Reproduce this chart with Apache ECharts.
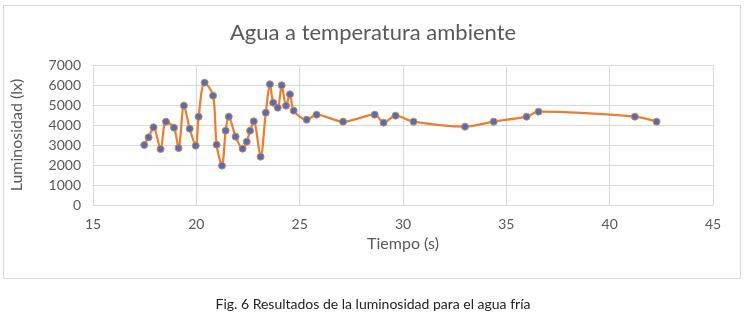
<!DOCTYPE html>
<html>
<head>
<meta charset="utf-8">
<script src="https://cdn.jsdelivr.net/npm/echarts@6/dist/echarts.min.js"></script>
<style>html,body{margin:0;padding:0;background:#fff}#c{width:746px;height:322px}</style>
</head>
<body>
<div id="c"></div>
<script>
const tiempo = [17.48,17.69,17.93,18.27,18.53,18.92,19.14,19.40,19.68,19.97,20.11,20.40,20.81,20.98,21.24,21.42,21.57,21.90,22.24,22.44,22.60,22.78,23.11,23.36,23.56,23.72,23.94,24.13,24.34,24.53,24.71,25.34,25.82,27.10,28.63,29.06,29.64,30.51,33.00,34.39,35.98,36.56,41.22,42.27];
const luminosidad = [3000,3383,3883,2800,4167,3867,2850,4967,3817,2967,4417,6117,5467,3017,1967,3717,4417,3417,2817,3167,3717,4183,2417,4617,6033,5117,4867,5983,4967,5533,4717,4267,4517,4167,4517,4117,4467,4167,3917,4167,4417,4667,4417,4167];
const xTicks = [15,20,25,30,35,40,45];
const yTicks = [0,1000,2000,3000,4000,5000,6000,7000];
const chartTitle = 'Agua a temperatura ambiente';
const xName = 'Tiempo (s)';
const yName = 'Luminosidad (lx)';
const caption = 'Fig. 6 Resultados de la luminosidad para el agua fría';

const font = 'Lato, "Open Sans", sans-serif';
const chart = echarts.init(document.getElementById('c'));
chart.setOption({
  animation: false,
  title: {
    text: chartTitle, left: 'center', top: 17,
    textStyle: {fontFamily: font, fontSize: 22, fontWeight: 'normal', color: '#595959'}
  },
  graphic: [
    {type: 'rect', shape: {x: 3.5, y: 5.5, width: 737, height: 273}, style: {fill: 'none', stroke: '#d9d9d9', lineWidth: 1}, silent: true},
    {type: 'text', left: 'center', top: 297, style: {text: caption, fontFamily: font, fontSize: 14, fill: '#222'}}
  ],
  grid: {left: 93, right: 33, top: 65, bottom: 117, containLabel: false},
  xAxis: {
    type: 'value', min: xTicks[0], max: xTicks[xTicks.length-1], interval: 5,
    name: xName, nameLocation: 'middle', nameGap: 31,
    nameTextStyle: {fontFamily: font, fontSize: 16, color: '#595959'},
    axisLine: {show: true, lineStyle: {color: '#d9d9d9'}},
    axisTick: {show: false},
    axisLabel: {fontFamily: font, fontSize: 14, color: '#595959', margin: 12},
    splitLine: {show: true, lineStyle: {color: '#d9d9d9'}}
  },
  yAxis: {
    type: 'value', min: yTicks[0], max: yTicks[yTicks.length-1], interval: 1000,
    name: yName, nameLocation: 'middle', nameGap: 68, nameRotate: 90,
    nameTextStyle: {fontFamily: font, fontSize: 16, color: '#595959'},
    axisLine: {show: false},
    axisTick: {show: false},
    axisLabel: {fontFamily: font, fontSize: 14, color: '#595959', margin: 12, formatter: v => String(v)},
    splitLine: {show: true, lineStyle: {color: '#d9d9d9'}}
  },
  series: [{
    type: 'line',
    data: tiempo.map((t, i) => [t, luminosidad[i]]),
    smooth: 0.3,
    symbol: 'circle', symbolSize: 7,
    lineStyle: {color: '#ED7D31', width: 2.25},
    itemStyle: {color: '#4472C4', borderColor: '#ED7D31', borderWidth: 1}
  }]
});
</script>
</body>
</html>
